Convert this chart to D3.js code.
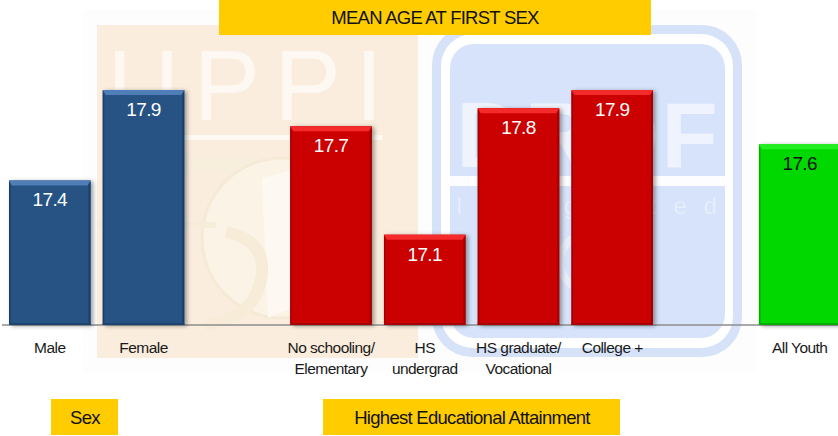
<!DOCTYPE html>
<html><head><meta charset="utf-8">
<style>html,body{margin:0;padding:0;background:#fff}svg{display:block}text{font-family:"Liberation Sans",Arial,sans-serif}</style>
<script src="https://cdnjs.cloudflare.com/ajax/libs/d3/7.8.5/d3.min.js"></script>
</head><body><div id="c"></div>
<script>
const slots = ["Male","Female","gap1","No schooling","HS undergrad","HS graduate","College","gap2","All Youth"];
const categories = ["Male","Female","No schooling","HS undergrad","HS graduate","College","All Youth"];
const values = [17.4,17.9,17.7,17.1,17.8,17.9,17.6];
const valueLabels = ["17.4","17.9","17.7","17.1","17.8","17.9","17.6"];
const tickLines = [["Male"],["Female"],["No schooling/","Elementary"],["HS","undergrad"],["HS graduate/","Vocational"],["College +"],["All Youth"]];
const groups = ["sex","sex","edu","edu","edu","edu","all"];
const title = "MEAN AGE AT FIRST SEX";
const groupLabels = ["Sex","Highest Educational Attainment"];

const W=838,H=436,base=325;
const svg=d3.select("#c").append("svg").attr("width",W).attr("height",H);
const x=d3.scaleBand().domain(slots).range([9,840.5]).paddingInner(0.13).paddingOuter(0);
const y=d3.scaleLinear().domain([16.6,18]).range([base,72]);
const pal={sex:{m:"#265283",t:"#4f7fb6",s:"#1b3d66",b:"#1d4470"},edu:{m:"#cb0505",t:"#f52a2a",s:"#9c0303",b:"#a80404"},all:{m:"#03d803",t:"#22ee22",s:"#04a804",b:"#05ae05"}};

const defs=svg.append("defs");
const f=defs.append("filter").attr("id","sh").attr("x","-10%").attr("y","-5%").attr("width","125%").attr("height","112%");
f.append("feDropShadow").attr("dx",2.5).attr("dy",1).attr("stdDeviation",2).attr("flood-color","#000").attr("flood-opacity",0.38);
const bl=defs.append("filter").attr("id","soft");bl.append("feGaussianBlur").attr("stdDeviation",0.7);

/* watermark */
const wm=svg.append("g").attr("filter","url(#soft)");
wm.append("rect").attr("x",83).attr("y",10).attr("width",673).attr("height",362).attr("fill","#fdfdfd");
wm.append("rect").attr("x",97).attr("y",25).attr("width",321).attr("height",333).attr("fill","#fbeddd");
[[137,48,10,72],[181,48,10,72]].forEach(()=>{});
wm.append("text").attr("x",252).attr("y",120).attr("text-anchor","middle").attr("font-size",100).attr("letter-spacing",14).attr("fill","#fdf8f2").text("UPPI");
wm.append("rect").attr("x",184).attr("y",135).attr("width",198).attr("height",5).attr("fill","#fef9f3");
wm.append("rect").attr("x",184).attr("y",155).attr("width",72).attr("height",18).attr("fill","#f8eedc");
wm.append("circle").attr("cx",282).attr("cy",238).attr("r",80).attr("fill","#fbf3e6").attr("stroke","#f5ead6").attr("stroke-width",3);
wm.append("path").attr("d","M262 178 L300 168 L345 190 L350 240 L310 300 L268 318 Z").attr("fill","#fdf9f2");
wm.append("path").attr("d","M226 232 Q264 240 262 272 Q258 318 205 325").attr("fill","none").attr("stroke","#f6ecd8").attr("stroke-width",12);
wm.append("path").attr("d","M97 225 H216").attr("stroke","#f6ecd9").attr("stroke-width",6);

wm.append("rect").attr("x",432).attr("y",25).attr("width",310).attr("height",332).attr("rx",40).attr("fill","#d6e2f8");
wm.append("rect").attr("x",441).attr("y",34).attr("width",292).attr("height",314).attr("rx",32).attr("fill","#fff");
wm.append("rect").attr("x",450).attr("y",44).attr("width",275).attr("height",294).attr("rx",24).attr("fill","#d6e3fa");
wm.append("rect").attr("x",450).attr("y",176).attr("width",275).attr("height",10).attr("fill","#fdfdff");
wm.append("text").attr("x",588).attr("y",167).attr("text-anchor","middle").attr("font-family","Liberation Serif").attr("font-weight","bold").attr("font-size",92).attr("letter-spacing",2).attr("fill","#eef3fd").text("DRDF");
wm.append("text").attr("x",456).attr("y",214).attr("font-size",24).attr("letter-spacing",17).attr("fill","#e6edfb").text("Integrated");
wm.append("circle").attr("cx",588).attr("cy",262).attr("r",28).attr("fill","none").attr("stroke","#e6edfb").attr("stroke-width",8);

/* axis line */
const axis=svg.append("g");
axis.append("line").attr("x1",2).attr("x2",W).attr("y1",base).attr("y2",base).attr("stroke","#8c8c8c").attr("stroke-width",1.4);

/* bars */
const bw=x.bandwidth();
const g=svg.append("g").selectAll("g").data(categories).join("g").attr("transform",d=>`translate(${x(d)},0)`);
g.each(function(d,i){
  const s=d3.select(this),top=y(values[i]),c=pal[groups[i]],h=base-top,e=3;
  s.append("rect").attr("width",bw).attr("y",top).attr("height",h).attr("fill",c.m).attr("filter","url(#sh)");
  s.append("path").attr("d",d3.line()([[0,top],[bw,top],[bw-e,top+5],[e,top+5]])).attr("fill",c.t);
  s.append("path").attr("d",d3.line()([[0,top],[e-1.5,top+5],[e-1.5,base-2],[0,base]])).attr("fill",c.s);
  s.append("path").attr("d",d3.line()([[bw,top],[bw-e+1,top+5],[bw-e+1,base-2],[bw,base]])).attr("fill",c.s);
  s.append("rect").attr("y",base-2).attr("width",bw).attr("height",2).attr("fill",c.b);
  s.append("text").attr("x",bw/2).attr("y",top+26).attr("text-anchor","middle").attr("font-size",19).attr("letter-spacing",-0.6)
    .attr("fill",groups[i]==="all"?"#111":"#fff").text(valueLabels[i]);
  s.append("text").attr("text-anchor","middle").attr("font-size",15.5).attr("letter-spacing",-0.55).attr("fill","#1a1a1a")
    .selectAll("tspan").data(tickLines[i]).join("tspan").attr("x",bw/2).attr("y",(t,j)=>353+21*j).text(t=>t);
});

/* banners */
function banner(x0,y0,w,h,t,fs,tx,ls){
  svg.append("rect").attr("x",x0).attr("y",y0).attr("width",w).attr("height",h).attr("fill","#ffcc00");
  svg.append("text").attr("x",tx).attr("y",y0+h/2+fs*0.36).attr("text-anchor","middle").attr("font-size",fs).attr("letter-spacing",ls).attr("fill","#111").text(t);
}
banner(219,0,432,35,title,18.5,435,-0.75);
banner(51,399,67,36,groupLabels[0],18.5,85,-0.7);
banner(323,399,297,36,groupLabels[1],18.5,472,-0.72);
</script></body></html>
